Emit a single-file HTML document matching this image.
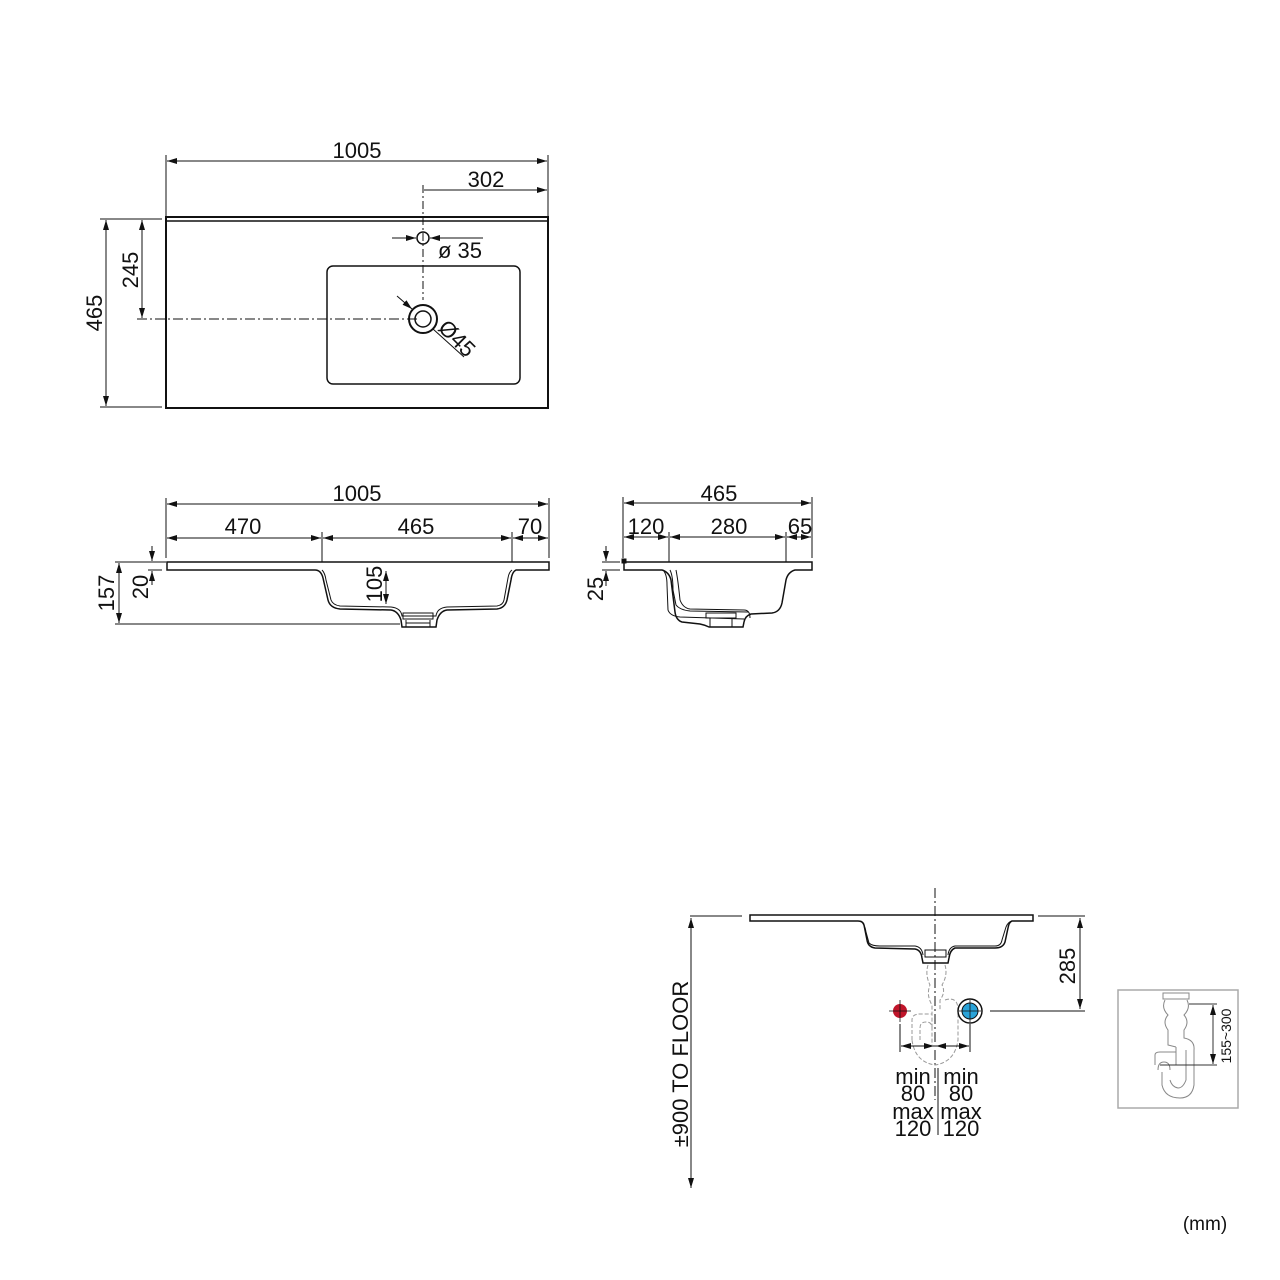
<!DOCTYPE html>
<html><head><meta charset="utf-8"><style>
html,body{margin:0;padding:0;background:#fff;}
svg{display:block;}
text{font-family:"Liberation Sans",Arial,sans-serif;fill:#111;}
</style></head><body>
<svg width="1280" height="1280" viewBox="0 0 1280 1280" xmlns="http://www.w3.org/2000/svg">
<defs>
<marker id="a" viewBox="0 0 10 6" refX="10" refY="3" markerWidth="10" markerHeight="6" orient="auto-start-reverse" markerUnits="userSpaceOnUse"><path d="M0,0 L10,3 L0,6 z" fill="#111"/></marker>
</defs>
<g stroke="#111" fill="none" stroke-width="1">
<line x1="166" y1="155" x2="166" y2="216"/><line x1="548" y1="155" x2="548" y2="216"/>
<line x1="167" y1="161" x2="547" y2="161" marker-start="url(#a)" marker-end="url(#a)"/>
<line x1="424" y1="190" x2="547" y2="190" marker-end="url(#a)"/>
<line x1="423" y1="185" x2="423" y2="300" stroke-dasharray="8,3,2,3"/>
<rect x="166" y="217" width="382" height="191" stroke-width="2"/>
<line x1="167" y1="221" x2="547" y2="221" stroke-width="1.5"/>
<rect x="327" y="266" width="193" height="118" rx="6" stroke-width="1.5"/>
<circle cx="423" cy="238" r="6" stroke-width="1.5"/>
<line x1="392" y1="238" x2="416" y2="238" marker-end="url(#a)"/>
<line x1="483" y1="238" x2="430" y2="238" marker-end="url(#a)"/>
<circle cx="423" cy="319" r="14" stroke-width="2"/>
<circle cx="423" cy="319" r="8" stroke-width="1.5"/>
<line x1="397" y1="296" x2="412" y2="309" marker-end="url(#a)"/>
<line x1="464" y1="357" x2="433" y2="329"/>
<line x1="137" y1="319" x2="420" y2="319" stroke-dasharray="10,3,2,3"/>
<line x1="100" y1="219" x2="162" y2="219"/><line x1="100" y1="407" x2="162" y2="407"/>
<line x1="106" y1="220" x2="106" y2="406" marker-start="url(#a)" marker-end="url(#a)"/>
<line x1="142" y1="220" x2="142" y2="318" marker-start="url(#a)" marker-end="url(#a)"/>
<line x1="166" y1="498" x2="166" y2="558"/><line x1="549" y1="498" x2="549" y2="558"/>
<line x1="322" y1="532" x2="322" y2="562"/><line x1="512" y1="532" x2="512" y2="562"/>
<line x1="167" y1="504" x2="548" y2="504" marker-start="url(#a)" marker-end="url(#a)"/>
<line x1="167" y1="538" x2="321" y2="538" marker-start="url(#a)" marker-end="url(#a)"/>
<line x1="323" y1="538" x2="511" y2="538" marker-start="url(#a)" marker-end="url(#a)"/>
<line x1="513" y1="538" x2="548" y2="538" marker-start="url(#a)" marker-end="url(#a)"/>
<path d="M167,562 L549,562 L549,570 L516,570 Q512,572 511,580 L507,600 Q505,608 497,609 L447,610 Q440,611 437,620 L436,627 L402,627 L401,620 Q398,611 391,610 L340,609 Q330,608 328,600 L323,578 Q321,570 315,570 L167,570 Z" stroke-width="1.5"/>
<path d="M322,570 Q325,573 326,580 L331,600 Q333,605 340,606 L391,607 Q401,608 402,616 L436,616 Q437,608 447,607 L497,606 Q503,605 504,600 L508,578 Q509,572 512,570" stroke-width="1"/>
<rect x="403" y="613" width="30" height="6"/><line x1="406" y1="620" x2="406" y2="627"/><line x1="430" y1="620" x2="430" y2="627"/><line x1="406" y1="623" x2="430" y2="623"/>
<line x1="115" y1="562" x2="166" y2="562"/><line x1="115" y1="624" x2="400" y2="624"/>
<line x1="119" y1="563" x2="119" y2="623" marker-start="url(#a)" marker-end="url(#a)"/>
<line x1="148" y1="570" x2="162" y2="570"/>
<line x1="152" y1="546" x2="152" y2="561" marker-end="url(#a)"/>
<line x1="152" y1="585" x2="152" y2="571" marker-end="url(#a)"/>
<line x1="386" y1="571" x2="386" y2="604" marker-start="url(#a)" marker-end="url(#a)"/>
<line x1="623" y1="497" x2="623" y2="558"/><line x1="812" y1="497" x2="812" y2="558"/>
<line x1="669" y1="532" x2="669" y2="562"/><line x1="786" y1="532" x2="786" y2="562"/>
<line x1="624" y1="503" x2="811" y2="503" marker-start="url(#a)" marker-end="url(#a)"/>
<line x1="624" y1="537" x2="668" y2="537" marker-start="url(#a)" marker-end="url(#a)"/>
<line x1="670" y1="537" x2="785" y2="537" marker-start="url(#a)" marker-end="url(#a)"/>
<line x1="787" y1="537" x2="811" y2="537" marker-start="url(#a)" marker-end="url(#a)"/>
<path d="M624,562 L812,562 L812,570 L795,570 Q788,572 786,580 L782,603 Q780,612 772,613 L751,614 Q745,616 744,622 L743,627 L709,627 Q705,625 700,624 L682,622 Q676,620 675,612 L671,580 Q669,572 662,570 L624,570 Z" stroke-width="1.5"/>
<path d="M663,570 Q667,574 667,585 L668,610 Q670,616 680,617 L744,619"/>
<path d="M670,570 Q673,576 673,590 L676,605 Q680,610 690,611 L748,612"/>
<path d="M676,570 Q678,580 680,600 Q683,608 690,609 L744,610 Q750,610 750,618"/>
<rect x="706" y="613" width="30" height="5"/><line x1="710" y1="618" x2="710" y2="627"/><line x1="732" y1="618" x2="732" y2="627"/>
<rect x="622" y="559" width="4" height="4" fill="#111"/>
<line x1="602" y1="562" x2="620" y2="562"/><line x1="602" y1="570" x2="620" y2="570"/>
<line x1="606" y1="546" x2="606" y2="561" marker-end="url(#a)"/>
<line x1="606" y1="586" x2="606" y2="571" marker-end="url(#a)"/>
<line x1="690" y1="916" x2="742" y2="916"/>
<line x1="691" y1="918" x2="691" y2="1188" marker-start="url(#a)" marker-end="url(#a)"/>
<path d="M750,915 L1033,915 L1033,921 L1012,921 Q1009,922 1008,928 L1005,942 Q1003,948 995,948 L955,948 Q950,950 949,958 L948,963 L923,963 L922,958 Q921,950 915,949 L875,948 Q868,947 867,940 L864,925 Q863,921 858,921 L750,921 Z" stroke-width="1.5"/>
<path d="M861,921 Q865,925 866,932 L869,943 Q872,946 880,946 L915,946 Q922,947 923,955 M948,955 Q949,947 955,946 L995,946 Q1001,946 1002,940 L1006,927 Q1008,922 1012,921"/>
<rect x="925" y="950" width="21" height="7"/>
<line x1="935" y1="888" x2="935" y2="1100" stroke-dasharray="10,3,2,3"/>
<line x1="1038" y1="916" x2="1085" y2="916"/>
<line x1="1080" y1="918" x2="1080" y2="1009" marker-start="url(#a)" marker-end="url(#a)"/>
<line x1="990" y1="1011" x2="1085" y2="1011"/>
<g stroke="#999" stroke-dasharray="4,2">
<path d="M928,965 Q925,975 930,985 Q926,995 932,1005 L932,1030"/>
<path d="M945,965 Q948,975 942,985 Q946,992 940,1000 L940,1010"/>
<path d="M945,1000 Q958,996 958,1010 L958,1040 Q955,1062 935,1065 Q915,1062 912,1040"/>
<path d="M912,1040 L912,1020 Q912,1014 920,1014 L932,1014"/>
<path d="M920,1040 L920,1028 Q920,1022 926,1022 Q932,1022 932,1028 L932,1045"/>
</g>
<circle cx="970" cy="1011" r="12" stroke-width="1.5"/>
<line x1="900" y1="1024" x2="900" y2="1052"/><line x1="970" y1="1024" x2="970" y2="1052"/>
<line x1="901" y1="1046" x2="934" y2="1046" marker-start="url(#a)" marker-end="url(#a)"/>
<line x1="936" y1="1046" x2="969" y2="1046" marker-start="url(#a)" marker-end="url(#a)"/>
<line x1="938" y1="1068" x2="938" y2="1135"/>
<rect x="1118" y="990" width="120" height="118" stroke="#aaa" stroke-width="1.5"/>
<g stroke="#888">
<rect x="1163" y="993" width="26" height="6"/>
<path d="M1165,1000 Q1161,1008 1168,1015 Q1162,1022 1168,1030 L1168,1045 L1176,1047 M1187,1000 Q1191,1008 1184,1015 Q1190,1022 1184,1030 L1184,1038 Q1195,1040 1194,1050 L1194,1085 Q1192,1098 1180,1098 Q1165,1098 1162,1085 L1162,1072 M1176,1047 L1176,1065 M1186,1050 L1186,1080 Q1183,1088 1178,1088 Q1172,1087 1170,1080"/>
<path d="M1155,1065 L1155,1055 Q1155,1052 1160,1052 L1176,1052 M1158,1070 Q1158,1062 1164,1062 Q1170,1062 1170,1070"/>
</g>
<line x1="1189" y1="1004" x2="1217" y2="1004" stroke="#333"/>
<line x1="1160" y1="1065" x2="1217" y2="1065" stroke="#333"/>
<line x1="1213" y1="1005" x2="1213" y2="1064" stroke="#333" marker-start="url(#a)" marker-end="url(#a)"/>
</g>
<circle cx="900" cy="1011" r="7" fill="#c0152a"/>
<circle cx="970" cy="1011" r="8" fill="#2aa3d8" stroke="#111" stroke-width="1"/>
<line x1="889" y1="1011" x2="911" y2="1011" stroke="#111" stroke-width="0.8"/>
<line x1="900" y1="1000" x2="900" y2="1022" stroke="#111" stroke-width="0.8"/>
<line x1="959" y1="1011" x2="981" y2="1011" stroke="#111" stroke-width="0.8"/>
<line x1="970" y1="1000" x2="970" y2="1022" stroke="#111" stroke-width="0.8"/>
<g font-size="22">
<text x="357" y="158" text-anchor="middle">1005</text>
<text x="486" y="187" text-anchor="middle">302</text>
<text x="438" y="258">ø 35</text>
<text transform="translate(437,329) rotate(45)" >Ø45</text>
<text transform="translate(102,313) rotate(-90)" text-anchor="middle">465</text>
<text transform="translate(138,270) rotate(-90)" text-anchor="middle">245</text>
<text x="357" y="501" text-anchor="middle">1005</text>
<text x="243" y="534" text-anchor="middle">470</text>
<text x="416" y="534" text-anchor="middle">465</text>
<text x="530" y="534" text-anchor="middle">70</text>
<text transform="translate(114,593) rotate(-90)" text-anchor="middle">157</text>
<text transform="translate(148,587) rotate(-90)" text-anchor="middle">20</text>
<text transform="translate(382,584) rotate(-90)" text-anchor="middle">105</text>
<text x="719" y="501" text-anchor="middle">465</text>
<text x="646" y="534" text-anchor="middle">120</text>
<text x="729" y="534" text-anchor="middle">280</text>
<text x="800" y="534" text-anchor="middle">65</text>
<text transform="translate(603,589) rotate(-90)" text-anchor="middle">25</text>
<text transform="translate(1075,966) rotate(-90)" text-anchor="middle">285</text>
<text transform="translate(688,1064) rotate(-90)" text-anchor="middle">±900 TO FLOOR</text>
<g text-anchor="middle" font-size="22">
<text x="913" y="1084">min</text><text x="913" y="1101">80</text><text x="913" y="1119">max</text><text x="913" y="1136">120</text>
<text x="961" y="1084">min</text><text x="961" y="1101">80</text><text x="961" y="1119">max</text><text x="961" y="1136">120</text>
</g>
<text x="1205" y="1230" text-anchor="middle" font-size="19">(mm)</text>
</g>
<text transform="translate(1231,1036) rotate(-90)" text-anchor="middle" font-size="14">155~300</text>
</svg>
</body></html>
